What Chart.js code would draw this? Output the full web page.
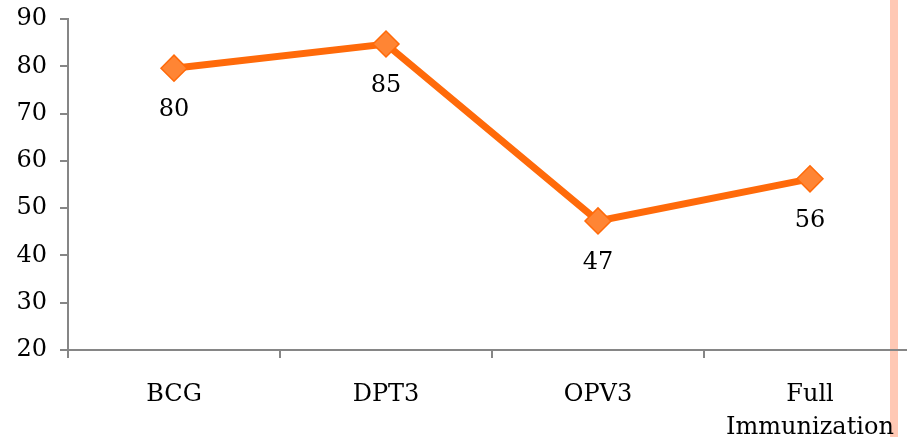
<!DOCTYPE html>
<html>
<head>
<meta charset="utf-8">
<script src="https://cdn.jsdelivr.net/npm/chart.js@4.4.1/dist/chart.umd.min.js"></script>
<style>
html,body{margin:0;padding:0;background:#fff;overflow:hidden;}
#wrap{position:relative;width:924px;height:437px;}
</style>
</head>
<body>
<div id="wrap"><canvas id="c" width="924" height="437"></canvas></div>
<script>
const categories = ["BCG", "DPT3", "OPV3", ["Full", "Immunization"]];
const coverage = [79.6, 84.7, 47.3, 56.2];
const valueLabels = ["80", "85", "47", "56"];
const yTicks = [20, 30, 40, 50, 60, 70, 80, 90];

const FONT = "'DejaVu Serif', serif";

const sidePlugin = {
  id: 'side',
  beforeDraw(chart) {
    const ctx = chart.ctx;
    ctx.save();
    ctx.fillStyle = '#FFC8B4';
    ctx.fillRect(890, 0, 8, chart.height);
    ctx.restore();
  }
};

const labelPlugin = {
  id: 'vlabels',
  afterDatasetsDraw(chart) {
    const ctx = chart.ctx;
    const meta = chart.getDatasetMeta(0);
    ctx.save();
    ctx.font = '24px ' + FONT;
    ctx.fillStyle = '#000';
    ctx.textAlign = 'center';
    ctx.textBaseline = 'middle';
    meta.data.forEach((pt, i) => {
      ctx.fillText(valueLabels[i], pt.x, pt.y + 42);
    });
    ctx.restore();
  }
};

new Chart(document.getElementById('c'), {
  type: 'line',
  data: {
    labels: categories,
    datasets: [{
      data: coverage,
      borderColor: '#FF6A0A',
      borderWidth: 7,
      pointStyle: 'rectRot',
      pointRadius: 13,
      pointHoverRadius: 13,
      pointBackgroundColor: '#FF8534',
      pointBorderColor: '#FF6A0A',
      pointBorderWidth: 1.5,
      tension: 0,
      clip: false
    }]
  },
  options: {
    responsive: false,
    animation: false,
    events: [],
    layout: { autoPadding: false, padding: { top: 0, right: 8, left: 0, bottom: 0 } },
    plugins: { legend: { display: false }, tooltip: { enabled: false } },
    scales: {
      x: {
        type: 'category',
        offset: true,
        grid: { offset: true, drawOnChartArea: false, color: '#868686', lineWidth: 2, tickLength: 8, tickWidth: 2 },
        border: { color: '#868686', width: 2 },
        ticks: { color: '#000', font: { family: FONT, size: 24, lineHeight: 1.35 }, padding: 21, maxRotation: 0, autoSkip: false },
        afterFit(s) { s.height = 87; }
      },
      y: {
        min: 20, max: 90,
        afterBuildTicks(s) { s.ticks = yTicks.map(v => ({ value: v })); },
        grid: { drawOnChartArea: false, color: '#868686', lineWidth: 2, tickLength: 8, tickWidth: 2 },
        border: { color: '#868686', width: 2 },
        ticks: { color: '#000', font: { family: FONT, size: 24 }, padding: 13 },
        afterFit(s) { s.width = 68; s.paddingTop = 19; s.paddingBottom = 0; }
      }
    }
  },
  plugins: [sidePlugin, labelPlugin]
});
</script>
</body>
</html>
